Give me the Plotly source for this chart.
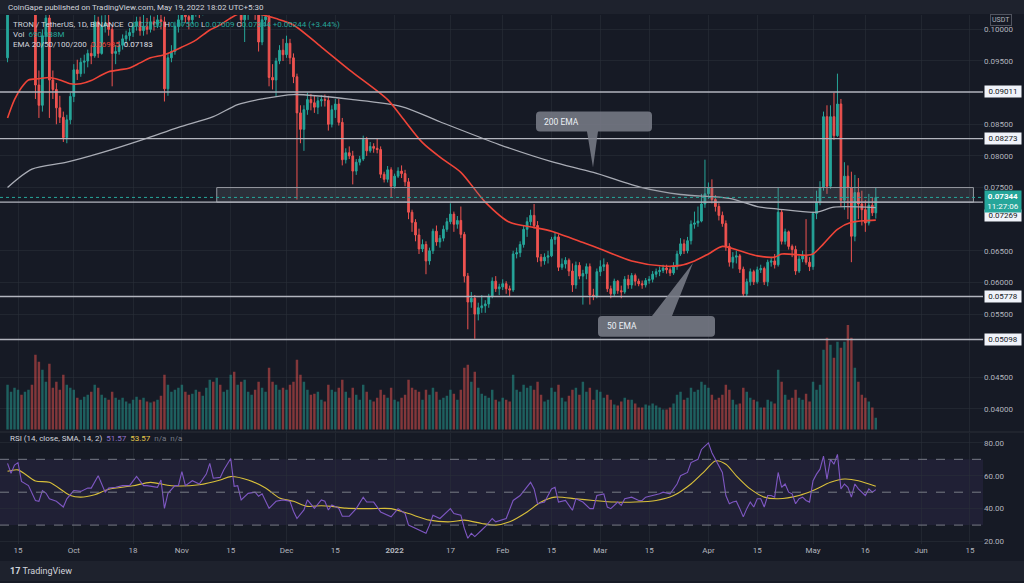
import plotly.graph_objects as go
import pandas as pd

# ---------------- DATA ----------------
first_open = 0.0955
sep_close = [.1030,.1045,.1060,.1075,.1055,.1065,.1080,.1045,.0912,.0880,.0990,.1018,.0920,.0905,.0876,.0861,.0829,.0857,.0894]
sep_high  = [.1040,.1060,.1075,.1090,.1085,.1080,.1095,.1085,.1050,.0935,.1000,.1040,.1030,.0935,.0915,.0895,.0870,.0865,.0900]
sep_low   = [.0948,.1025,.1030,.1045,.1040,.1040,.1050,.1030,.0890,.0860,.0870,.0980,.0860,.0890,.0850,.0852,.0822,.0820,.0850]
oct_close = [.0936,.0930,.0948,.0950,.0962,.0958,.1012,.0962,.1005,.1010,.1000,.0962,.0965,.0975,.0985,.0990,.0995,.1005,.1012,.0998,.1005,.1000,.1012,.1008,.1015,.1012,.0906,.0955,.0965,.1005,.1015]
oct_high  = [.0945,.0952,.0955,.0960,.0968,.0975,.1025,.1020,.1022,.1030,.1025,.1005,.0975,.0982,.0992,.0998,.1002,.1012,.1020,.1020,.1025,.1018,.1022,.1020,.1028,.1030,.1020,.0962,.0975,.1012,.1035]
oct_low   = [.0885,.0920,.0925,.0930,.0940,.0945,.0955,.0955,.0960,.0995,.0990,.0910,.0945,.0960,.0968,.0978,.0982,.0988,.0998,.0990,.0990,.0992,.0995,.0998,.1002,.1000,.0886,.0895,.0948,.0960,.0995]
nov_close = [.1035,.1020,.1015,.1030,.1040,.1030,.1035,.1060,.1075,.1045,.1090,.1065,.1070,.1085,.1120,.1040,.1045,.1015,.1025,.1035,.1040,.1030,.0980,.1015,.1020,.0924,.0920,.0950,.0967,.0960]
nov_high  = [.1050,.1045,.1035,.1040,.1052,.1048,.1045,.1070,.1090,.1100,.1105,.1100,.1085,.1095,.1135,.1125,.1060,.1055,.1035,.1045,.1052,.1048,.1040,.1030,.1035,.1030,.0945,.0955,.0975,.0985]
nov_low   = [.1005,.1010,.1000,.1008,.1020,.1018,.1022,.1030,.1050,.1030,.1040,.1050,.1055,.1060,.1075,.1030,.1025,.1005,.0980,.1015,.1025,.1015,.0965,.0975,.1005,.0910,.0905,.0894,.0945,.0950]
dec_close = [.0978,.0955,.0925,.0868,.0842,.0873,.0889,.0884,.0877,.0887,.0889,.0888,.0850,.0873,.0882,.0853,.0794,.0805,.0800,.0776,.0790,.0795,.0826,.0808,.0815,.0812,.0810,.0771,.0763,.0778,.0752]
dec_high  = [.0990,.0985,.0962,.0930,.0880,.0880,.0900,.0898,.0895,.0893,.0896,.0897,.0895,.0880,.0890,.0890,.0860,.0812,.0815,.0808,.0795,.0800,.0832,.0830,.0822,.0820,.0828,.0815,.0775,.0784,.0782]
dec_low   = [.0955,.0945,.0915,.0731,.0820,.0808,.0865,.0872,.0868,.0866,.0878,.0878,.0840,.0845,.0860,.0848,.0785,.0788,.0795,.0755,.0770,.0785,.0792,.0800,.0805,.0805,.0804,.0765,.0758,.0758,.0735]
jan_close = [.0768,.0776,.0772,.0759,.0711,.0695,.0675,.0653,.0660,.0634,.0650,.0681,.0664,.0670,.0684,.0696,.0708,.0692,.0698,.0676,.0610,.0569,.0575,.0550,.0560,.0563,.0566,.0578,.0602,.0590,.0593]
jan_high  = [.0772,.0782,.0785,.0778,.0765,.0715,.0700,.0685,.0668,.0665,.0655,.0685,.0690,.0675,.0690,.0702,.0725,.0712,.0705,.0720,.0680,.0615,.0585,.0580,.0568,.0580,.0572,.0582,.0608,.0610,.0598]
jan_low   = [.0748,.0765,.0765,.0752,.0700,.0680,.0665,.0645,.0648,.0613,.0628,.0645,.0658,.0655,.0665,.0680,.0692,.0680,.0685,.0670,.0600,.0526,.0560,.0511,.0540,.0552,.0552,.0560,.0575,.0585,.0580]
feb_close = [.0598,.0590,.0588,.0645,.0647,.0660,.0684,.0696,.0706,.0690,.0640,.0634,.0640,.0642,.0668,.0672,.0624,.0629,.0635,.0618,.0596,.0627,.0610,.0614,.0625,.0580,.0578,.0617]
feb_high  = [.0605,.0602,.0595,.0650,.0655,.0665,.0690,.0703,.0715,.0724,.0697,.0645,.0646,.0650,.0672,.0680,.0676,.0638,.0640,.0638,.0630,.0633,.0632,.0620,.0630,.0630,.0590,.0622]
feb_low   = [.0588,.0582,.0578,.0585,.0638,.0640,.0655,.0672,.0690,.0685,.0632,.0625,.0628,.0630,.0640,.0660,.0618,.0620,.0622,.0610,.0585,.0590,.0605,.0565,.0605,.0565,.0572,.0575]
mar_close = [.0625,.0628,.0590,.0582,.0602,.0587,.0585,.0605,.0596,.0611,.0602,.0598,.0596,.0603,.0605,.0613,.0617,.0619,.0623,.0620,.0615,.0625,.0645,.0661,.0650,.0666,.0692,.0694,.0697,.0724,.0740]
mar_high  = [.0635,.0638,.0632,.0595,.0606,.0604,.0595,.0610,.0612,.0615,.0614,.0606,.0603,.0607,.0610,.0618,.0622,.0625,.0628,.0628,.0624,.0632,.0650,.0670,.0668,.0672,.0698,.0712,.0720,.0740,.0794]
mar_low   = [.0610,.0618,.0585,.0575,.0578,.0582,.0575,.0582,.0590,.0590,.0595,.0594,.0590,.0592,.0598,.0600,.0608,.0610,.0615,.0614,.0610,.0612,.0620,.0642,.0645,.0646,.0660,.0685,.0688,.0695,.0718]
apr_close = [.0750,.0731,.0720,.0706,.0693,.0657,.0632,.0640,.0642,.0621,.0582,.0601,.0617,.0601,.0620,.0622,.0601,.0632,.0634,.0628,.0711,.0665,.0680,.0657,.0652,.0618,.0637,.0642,.0632,.0625]
apr_high  = [.0758,.0763,.0738,.0725,.0712,.0698,.0662,.0648,.0650,.0645,.0625,.0606,.0622,.0620,.0625,.0628,.0625,.0636,.0640,.0645,.0750,.0715,.0685,.0682,.0660,.0658,.0642,.0650,.0700,.0640]
apr_low   = [.0732,.0725,.0712,.0698,.0688,.0650,.0625,.0622,.0630,.0615,.0578,.0578,.0595,.0596,.0598,.0615,.0596,.0594,.0625,.0622,.0625,.0660,.0660,.0652,.0640,.0612,.0615,.0632,.0628,.0618]
may_close = [.0709,.0727,.0750,.0862,.0752,.0862,.0832,.0882,.0730,.0768,.0750,.0673,.0742,.0724,.0715,.0694,.0722,.0710,.07344]
may_high  = [.0712,.0745,.0760,.0870,.0880,.0880,.0900,.0930,.0890,.0790,.0785,.0775,.0770,.0765,.0745,.0730,.0740,.0735,.0750]
may_low   = [.0620,.0700,.0722,.0745,.0740,.0748,.0825,.0830,.0720,.0715,.0700,.0632,.0665,.0700,.0690,.0680,.0690,.0705,.07009]

# volume, millions USDT
sep_vol = [2610,2204,2436,2320,2030,2204,2320,2610,4350,3944,3480,2784,3828,2436,2784,2320,3190,2610,2436]
oct_vol = [2320,1856,1740,1914,2030,2204,2610,2436,2030,1856,1740,2204,1856,1740,1856,1624,1508,1740,1914,1740,1856,1624,1566,1624,1740,1972,3190,2610,2204,2320,2436]
nov_vol = [2610,2204,2030,2088,2320,2204,1972,2436,2900,2784,3016,2610,2204,2320,3190,3364,2610,2784,2900,2204,2030,2320,2784,2436,2204,3596,2784,2610,2320,2436]
dec_vol = [2320,2610,2784,4060,3190,2784,2320,2030,2088,2204,1740,1624,2610,2320,2204,2436,2900,2204,1856,2436,2030,1740,2610,2204,1740,1624,1856,2320,2030,1856,2436]
jan_vol = [1740,1624,1856,2030,2900,2436,2320,2204,1740,2320,2030,2436,2204,1740,1856,1972,2320,2088,1740,2320,3596,3770,2784,3364,2436,2088,1972,1856,2320,1740,1624]
feb_vol = [1856,1740,1624,3190,2320,2204,2610,2436,2552,2320,2784,2030,1624,1740,2436,2204,2610,1856,1624,1972,2320,2436,2030,2784,2204,2436,1740,2320]
mar_vol = [2204,1856,2030,1740,1450,1392,1624,1856,1740,1740,1508,1276,1276,1450,1392,1508,1392,1276,1160,1160,1276,1508,2030,2204,1740,1856,2436,2204,2320,2784,2610]
apr_vol = [2436,2030,1740,1856,2030,2610,2320,1740,1450,1508,2436,2204,1856,1740,1624,1276,1276,1740,1624,1508,3480,2784,2030,1740,1856,2320,1856,1740,2088,1624]
may_vol = [2784,2320,2610,4640,5336,4930,4176,5104,4756,5104,6090,5336,3596,2784,2030,1856,1624,1276,690]

ema50_dates = ["2021-09-12","2021-09-14","2021-09-16","2021-09-18","2021-09-21","2021-09-24","2021-09-27","2021-09-30","2021-10-03","2021-10-06","2021-10-09","2021-10-11","2021-10-14","2021-10-17","2021-10-20","2021-10-23","2021-10-27","2021-11-01","2021-11-05","2021-11-09","2021-11-12","2021-11-15","2021-11-19","2021-11-24","2021-11-28","2021-12-03","2021-12-11","2021-12-19","2021-12-30","2022-01-03","2022-01-09","2022-01-15","2022-01-20","2022-01-27","2022-02-03","2022-02-10","2022-02-15","2022-02-25","2022-03-01","2022-03-10","2022-03-19","2022-03-24","2022-03-28","2022-04-01","2022-04-05","2022-04-10","2022-04-15","2022-04-20","2022-04-22","2022-04-29","2022-05-01","2022-05-04","2022-05-08","2022-05-12","2022-05-19"]
ema50_vals = [0.0860,0.0889,0.0908,0.0920,0.0922,0.0924,0.0920,0.0914,0.0914,0.0919,0.0928,0.0933,0.0936,0.0939,0.0947,0.0955,0.0960,0.0972,0.0983,0.0999,0.1007,0.1018,0.1028,0.1023,0.1017,0.1007,0.0972,0.0936,0.0889,0.0862,0.0821,0.0794,0.0774,0.0727,0.0695,0.0687,0.0681,0.0661,0.0653,0.0634,0.0626,0.0627,0.0634,0.0645,0.0657,0.0650,0.0642,0.0640,0.0645,0.0643,0.0645,0.0661,0.0684,0.0695,0.06985]
ema200_dates = ["2021-09-12","2021-09-19","2021-09-29","2021-10-09","2021-10-21","2021-10-31","2021-11-10","2021-11-17","2021-11-24","2021-12-03","2021-12-20","2022-01-03","2022-01-14","2022-01-31","2022-02-15","2022-02-27","2022-03-13","2022-03-24","2022-04-07","2022-04-15","2022-04-21","2022-05-02","2022-05-07","2022-05-19"]
ema200_vals = [0.0750,0.0779,0.0790,0.0805,0.0826,0.0845,0.0862,0.0881,0.0890,0.0897,0.0889,0.0878,0.0854,0.0818,0.0791,0.0774,0.0750,0.0739,0.0733,0.0720,0.0716,0.0711,0.0719,0.07183]

rsi_dates = ["2021-09-12","2021-09-13","2021-09-14","2021-09-15","2021-09-16","2021-09-18","2021-09-20","2021-09-21","2021-09-22","2021-09-23","2021-09-24","2021-09-26","2021-09-28","2021-09-29","2021-10-01","2021-10-03","2021-10-05","2021-10-06","2021-10-08","2021-10-10","2021-10-11","2021-10-13","2021-10-15","2021-10-17","2021-10-19","2021-10-21","2021-10-22","2021-10-25","2021-10-26","2021-10-27","2021-10-28","2021-10-30","2021-10-31","2021-11-01","2021-11-02","2021-11-04","2021-11-06","2021-11-08","2021-11-09","2021-11-10","2021-11-12","2021-11-13","2021-11-15","2021-11-16","2021-11-17","2021-11-18","2021-11-20","2021-11-22","2021-11-23","2021-11-24","2021-11-26","2021-11-28","2021-11-30","2021-12-02","2021-12-03","2021-12-04","2021-12-06","2021-12-07","2021-12-09","2021-12-11","2021-12-12","2021-12-13","2021-12-14","2021-12-16","2021-12-17","2021-12-19","2021-12-21","2021-12-23","2021-12-24","2021-12-26","2021-12-28","2021-12-31","2022-01-02","2022-01-04","2022-01-05","2022-01-07","2022-01-08","2022-01-10","2022-01-11","2022-01-12","2022-01-14","2022-01-16","2022-01-17","2022-01-18","2022-01-20","2022-01-21","2022-01-22","2022-01-23","2022-01-24","2022-01-26","2022-01-27","2022-01-29","2022-01-30","2022-02-02","2022-02-04","2022-02-06","2022-02-08","2022-02-09","2022-02-10","2022-02-11","2022-02-13","2022-02-15","2022-02-16","2022-02-17","2022-02-19","2022-02-20","2022-02-21","2022-02-22","2022-02-24","2022-02-26","2022-02-27","2022-02-28","2022-03-02","2022-03-03","2022-03-04","2022-03-06","2022-03-07","2022-03-08","2022-03-10","2022-03-12","2022-03-13","2022-03-14","2022-03-16","2022-03-18","2022-03-19","2022-03-21","2022-03-23","2022-03-24","2022-03-26","2022-03-27","2022-03-29","2022-03-30","2022-03-31","2022-04-01","2022-04-02","2022-04-03","2022-04-04","2022-04-05","2022-04-06","2022-04-07","2022-04-08","2022-04-09","2022-04-10","2022-04-11","2022-04-12","2022-04-13","2022-04-14","2022-04-15","2022-04-16","2022-04-17","2022-04-18","2022-04-19","2022-04-20","2022-04-21","2022-04-22","2022-04-23","2022-04-24","2022-04-25","2022-04-26","2022-04-27","2022-04-28","2022-04-29","2022-04-30","2022-05-01","2022-05-02","2022-05-03","2022-05-04","2022-05-05","2022-05-06","2022-05-07","2022-05-08","2022-05-09","2022-05-10","2022-05-11","2022-05-12","2022-05-13","2022-05-14","2022-05-15","2022-05-16","2022-05-17","2022-05-18","2022-05-19"]
rsi_vals = [67.5,61.5,66.5,68,56.6,54,45,44.5,51,49.5,46,44.5,41,46,51,50.5,52.5,52.5,60,50,52.5,53,54,54,59.6,54,54,53,57.4,40.2,49.3,54,54,62.5,54,57,55,61,67.5,58.5,59,63.5,70.5,53.6,54,45.3,49.3,50,47.5,49,40.2,44.5,45.3,44.5,38.4,34,39.2,45.3,40.2,45.3,44.5,39.2,42.3,40.2,35.4,35.4,40,47,44,44,38,35,40,37,30,28,27,25,30,36,34,38,40,37,36,28,22,25,23,27,29,34,32,34,45,48,53,56,52,43,44,52,53,44,45,42,39,46,44,40,40,48,49,41,40,44,42,46,47,45,45,47,48,49,50,49,55,60,62,68,70,76,78,80,74,70,66,62,48,43,44,44.5,40,35,40,44,41,46,46,41,48,48,47,62,53,55,50,49,43,46,47,45,44,57,61,64,72,58,70,67,73,52,55,53,47,55,52,50,48,52,50,51.57]
rsi_ma_dates = ["2021-09-12","2021-09-15","2021-09-20","2021-09-24","2021-09-30","2021-10-03","2021-10-07","2021-10-11","2021-10-18","2021-10-23","2021-10-29","2021-11-06","2021-11-12","2021-11-15","2021-11-20","2021-11-25","2021-11-29","2021-12-03","2021-12-07","2021-12-11","2021-12-14","2021-12-18","2021-12-25","2021-12-31","2022-01-05","2022-01-11","2022-01-17","2022-01-21","2022-01-26","2022-01-30","2022-02-03","2022-02-08","2022-02-12","2022-02-16","2022-02-22","2022-02-27","2022-03-05","2022-03-11","2022-03-17","2022-03-22","2022-03-27","2022-03-31","2022-04-03","2022-04-06","2022-04-09","2022-04-13","2022-04-17","2022-04-21","2022-04-27","2022-05-01","2022-05-06","2022-05-10","2022-05-14","2022-05-19"]
rsi_ma_vals = [62.7,63.6,56.8,56,48,47,48.5,51.8,53.9,56,53.9,54.5,57.4,59.5,57.4,52.6,46.5,44.5,41.4,41.8,41.4,40.3,40,40,37,33,32,33,31,30,32,38,44,47,46,45,44,44,45,48,55,63,69,67,60,52,47,46,48,51,56,58,57,53.57]

level_vals = [0.09011, 0.08273, 0.07269, 0.05778, 0.05098]
zone_low, zone_high = 0.07269, 0.07500
zone_start, zone_end = "2021-11-11", "2022-06-16"
last_price = 0.07344
price_ticks = [0.040,0.045,0.055,0.060,0.065,0.075,0.080,0.085,0.095,0.100]
rsi_ticks = [20, 40, 60, 80]
x_tick_dates = ["2021-09-15","2021-10-01","2021-10-18","2021-11-01","2021-11-15","2021-12-01","2021-12-15","2022-01-01","2022-01-17","2022-02-01","2022-02-15","2022-03-01","2022-03-15","2022-04-01","2022-04-15","2022-05-01","2022-05-16","2022-06-01","2022-06-15"]
x_tick_text = ["15","Oct","18","Nov","15","Dec","15","<b>2022</b>","17","Feb","15","Mar","15","Apr","15","May","16","Jun","15"]

# ---------------- assemble ----------------
closes = sep_close+oct_close+nov_close+dec_close+jan_close+feb_close+mar_close+apr_close+may_close
highs = sep_high+oct_high+nov_high+dec_high+jan_high+feb_high+mar_high+apr_high+may_high
lows = sep_low+oct_low+nov_low+dec_low+jan_low+feb_low+mar_low+apr_low+may_low
vols = sep_vol+oct_vol+nov_vol+dec_vol+jan_vol+feb_vol+mar_vol+apr_vol+may_vol
opens = [first_open] + closes[:-1]
dates = pd.date_range("2021-09-12", periods=len(closes), freq="D")

W, H = 1024, 583
PW = 983  # plot area width in px
def PX(px): return px / PW
def PY(py): return 1 - py / H
def P(x, y): return f"{PX(x):.5f},{PY(y):.5f}"

BG = "#161a25"; BAND = "#1e222d"; GRID = "rgba(42,46,57,0.6)"
TEAL = "#26a69a"; RED = "#ef5350"; TXT = "#b2b5be"; FONT = "Roboto"

fig = go.Figure()
vcol = ["rgba(38,166,154,0.5)" if c >= o else "rgba(239,83,80,0.5)" for o, c in zip(opens, closes)]
fig.add_trace(go.Bar(x=dates, y=vols, marker=dict(color=vcol, line=dict(width=0)), xaxis="x", yaxis="y", hoverinfo="skip"))
fig.add_trace(go.Scatter(x=ema200_dates, y=ema200_vals, mode="lines", line=dict(color="#a9acb5", width=1.3, shape="spline", smoothing=0.8), xaxis="x", yaxis="y3", hoverinfo="skip"))
fig.add_trace(go.Scatter(x=ema50_dates, y=ema50_vals, mode="lines", line=dict(color="#ef4438", width=1.6, shape="spline", smoothing=0.8), xaxis="x", yaxis="y3", hoverinfo="skip"))
fig.add_trace(go.Candlestick(x=dates, open=opens, high=highs, low=lows, close=closes,
    increasing=dict(line=dict(color=TEAL, width=1), fillcolor=TEAL),
    decreasing=dict(line=dict(color=RED, width=1), fillcolor=RED),
    whiskerwidth=0, xaxis="x", yaxis="y3", hoverinfo="skip"))
fig.add_trace(go.Scatter(x=rsi_ma_dates, y=rsi_ma_vals, mode="lines", line=dict(color="#d8bf3a", width=1.1, shape="spline", smoothing=0.8), xaxis="x2", yaxis="y2", hoverinfo="skip"))
fig.add_trace(go.Scatter(x=rsi_dates, y=rsi_vals, mode="lines", line=dict(color="#7e57c2", width=1.1), xaxis="x2", yaxis="y2", hoverinfo="skip"))

x0 = pd.Timestamp("2021-09-15") - pd.Timedelta(days=18/3.487)
x1 = x0 + pd.Timedelta(days=PW/3.487)
p_top = 0.04 + (410.4 - 15) / 6349
p_bot = 0.04 + (410.4 - 433) / 6349
r_top = 80 + (444.4 - 434) / 1.65
r_bot = 80 - (546 - 444.4) / 1.65

shapes = []
shapes.append(dict(type="rect", xref="paper", yref="paper", x0=0, x1=W/PW, y0=PY(14), y1=1, fillcolor=BAND, line=dict(width=0), layer="below"))
shapes.append(dict(type="rect", xref="paper", yref="paper", x0=0, x1=W/PW, y0=0, y1=PY(563), fillcolor=BAND, line=dict(width=0), layer="below"))
shapes.append(dict(type="line", xref="paper", yref="paper", x0=0, x1=W/PW, y0=PY(433.5), y1=PY(433.5), line=dict(color="#2a2e39", width=1)))
shapes.append(dict(type="rect", xref="x", yref="y3", x0=zone_start, x1=zone_end, y0=zone_low, y1=zone_high, fillcolor="rgba(120,123,134,0.22)", line=dict(color="#9598a1", width=1)))
for v in level_vals:
    shapes.append(dict(type="line", xref="paper", yref="y3", x0=0, x1=1, y0=v, y1=v, line=dict(color="#b2b5be", width=1.4)))
shapes.append(dict(type="line", xref="paper", yref="y3", x0=0, x1=1, y0=last_price, y1=last_price, line=dict(color=TEAL, width=1, dash="dot")))
shapes.append(dict(type="rect", xref="paper", yref="y2", x0=0, x1=1, y0=30, y1=70, fillcolor="rgba(126,87,194,0.10)", line=dict(width=0), layer="below"))
for v in (70, 50, 30):
    shapes.append(dict(type="line", xref="paper", yref="y2", x0=0, x1=1, y0=v, y1=v, line=dict(color="#787b86", width=1, dash="dash")))

def callout(bx0, by0, bx1, by1, r, top_ptr=None, bot_ptr=None):
    s = "M " + P(bx0 + r, by0)
    if top_ptr:
        for pt in top_ptr:
            s += " L " + P(*pt)
    s += " L " + P(bx1 - r, by0) + " Q " + P(bx1, by0) + " " + P(bx1, by0 + r)
    s += " L " + P(bx1, by1 - r) + " Q " + P(bx1, by1) + " " + P(bx1 - r, by1)
    if bot_ptr:
        for pt in bot_ptr:
            s += " L " + P(*pt)
    s += " L " + P(bx0 + r, by1) + " Q " + P(bx0, by1) + " " + P(bx0, by1 - r)
    s += " L " + P(bx0, by0 + r) + " Q " + P(bx0, by0) + " " + P(bx0 + r, by0) + " Z"
    return s

CALL = "rgba(120,123,134,0.88)"
shapes.append(dict(type="path", xref="paper", yref="paper", path=callout(536, 112, 652, 132, 4, bot_ptr=[(598, 132), (593, 168), (587, 132)]), fillcolor=CALL, line=dict(width=0)))
shapes.append(dict(type="path", xref="paper", yref="paper", path=callout(598, 317, 715, 338, 4, top_ptr=[(652, 317), (693, 264), (672, 317)]), fillcolor=CALL, line=dict(width=0)))

ann = []
def A(x, y, text, size=8, color=TXT, **kw):
    d = dict(xref="paper", yref="paper", x=PX(x), y=PY(y), text=text, showarrow=False, xanchor="left", yanchor="middle", font=dict(family=FONT, size=size, color=color))
    d.update(kw)
    ann.append(d)

g = "#d1d4dc"
def sp(t, c): return f'<span style="color:{c}">{t}</span>'
A(6, 8, "CoinGape published on TradingView.com, May 19, 2022 18:02 UTC+5:30", size=8, color=g)
A(11, 25, sp("TRON / TetherUS, 1D, BINANCE", g) + "  " + sp("O", g) + sp("0.07100", TEAL) + " " + sp("H", g) + sp("0.07500", TEAL) + " " + sp("L", g) + sp("0.07009", TEAL) + " " + sp("C", g) + sp("0.07344", TEAL) + " " + sp("+0.00244 (+3.44%)", TEAL), size=8)
A(11, 35, sp("Vol", g) + "  " + sp("690.338M", TEAL), size=8)
A(11, 45, sp("EMA 20/50/100/200", g) + "  " + sp("0.06985", "#ef4438") + "  " + sp("0.07183", "#e0e3eb"), size=8)
A(8, 440, sp("RSI (14, close, SMA, 14, 2)", g) + "  " + sp("51.57", "#9575cd") + "  " + sp("53.57", "#e6c84a") + "  " + sp("n/a", "#787b86") + "  " + sp("n/a", "#787b86"), size=8)
A(542, 122, "200 EMA", size=8.5, color="#eceff5")
A(605, 327.5, "50 EMA", size=8.5, color="#eceff5")
A(8, 573, "<b>17</b> TradingView", size=9, color="#d1d4dc")

for v in level_vals:
    if v == 0.07269:
        continue
    ann.append(dict(xref="paper", yref="y3", x=PX(984), y=v, text=f"{v:.5f}", showarrow=False, xanchor="left", yanchor="middle",
                    font=dict(family=FONT, size=8, color="#131722"), bgcolor="#f0f3fa", borderpad=1, width=34))
ann.append(dict(xref="paper", yref="paper", x=PX(984), y=PY(216.5), text="0.07269", showarrow=False, xanchor="left", yanchor="middle",
                font=dict(family=FONT, size=8, color="#131722"), bgcolor="#f0f3fa", borderpad=1, width=34))
ann.append(dict(xref="paper", yref="paper", x=PX(984), y=PY(202.5), text="<b>0.07344</b><br>11:27:06", showarrow=False, xanchor="left", yanchor="middle",
                font=dict(family=FONT, size=8, color="#ffffff"), bgcolor=TEAL, borderpad=1, width=34, align="center"))
ann.append(dict(xref="paper", yref="paper", x=PX(1001), y=PY(20), text="USDT", showarrow=False, xanchor="center", yanchor="middle",
                font=dict(family=FONT, size=7, color=TXT), bgcolor=BG, bordercolor="#50535e", borderwidth=1, borderpad=1))

axfont = dict(family=FONT, size=8, color=TXT)
fig.update_layout(
    width=W, height=H, margin=dict(l=0, r=W-PW, t=0, b=0),
    paper_bgcolor=BG, plot_bgcolor=BG, showlegend=False, bargap=0.3,
    xaxis=dict(domain=[0, 1], range=[x0, x1], anchor="y", type="date", showticklabels=False, tickvals=x_tick_dates,
               showgrid=True, gridcolor=GRID, zeroline=False, rangeslider=dict(visible=False), showline=False),
    xaxis2=dict(domain=[0, 1], range=[x0, x1], anchor="y2", type="date", tickvals=x_tick_dates, ticktext=x_tick_text,
                tickfont=axfont, showgrid=True, gridcolor=GRID, zeroline=False, ticks="", showline=False),
    yaxis=dict(domain=[PY(433), PY(15)], range=[-116, 24128], visible=False, fixedrange=True),
    yaxis3=dict(overlaying="y", side="right", anchor="x", range=[p_bot, p_top], tickvals=price_ticks, tickformat=".5f",
                tickfont=axfont, showgrid=True, gridcolor=GRID, zeroline=False, ticks="", showline=False),
    yaxis2=dict(domain=[PY(546), PY(434)], anchor="x2", side="right", range=[r_bot, r_top], tickvals=rsi_ticks, tickformat=".2f",
                tickfont=axfont, showgrid=True, gridcolor=GRID, zeroline=False, ticks="", showline=False),
    shapes=shapes, annotations=ann,
)
fig.write_html("out.html")
